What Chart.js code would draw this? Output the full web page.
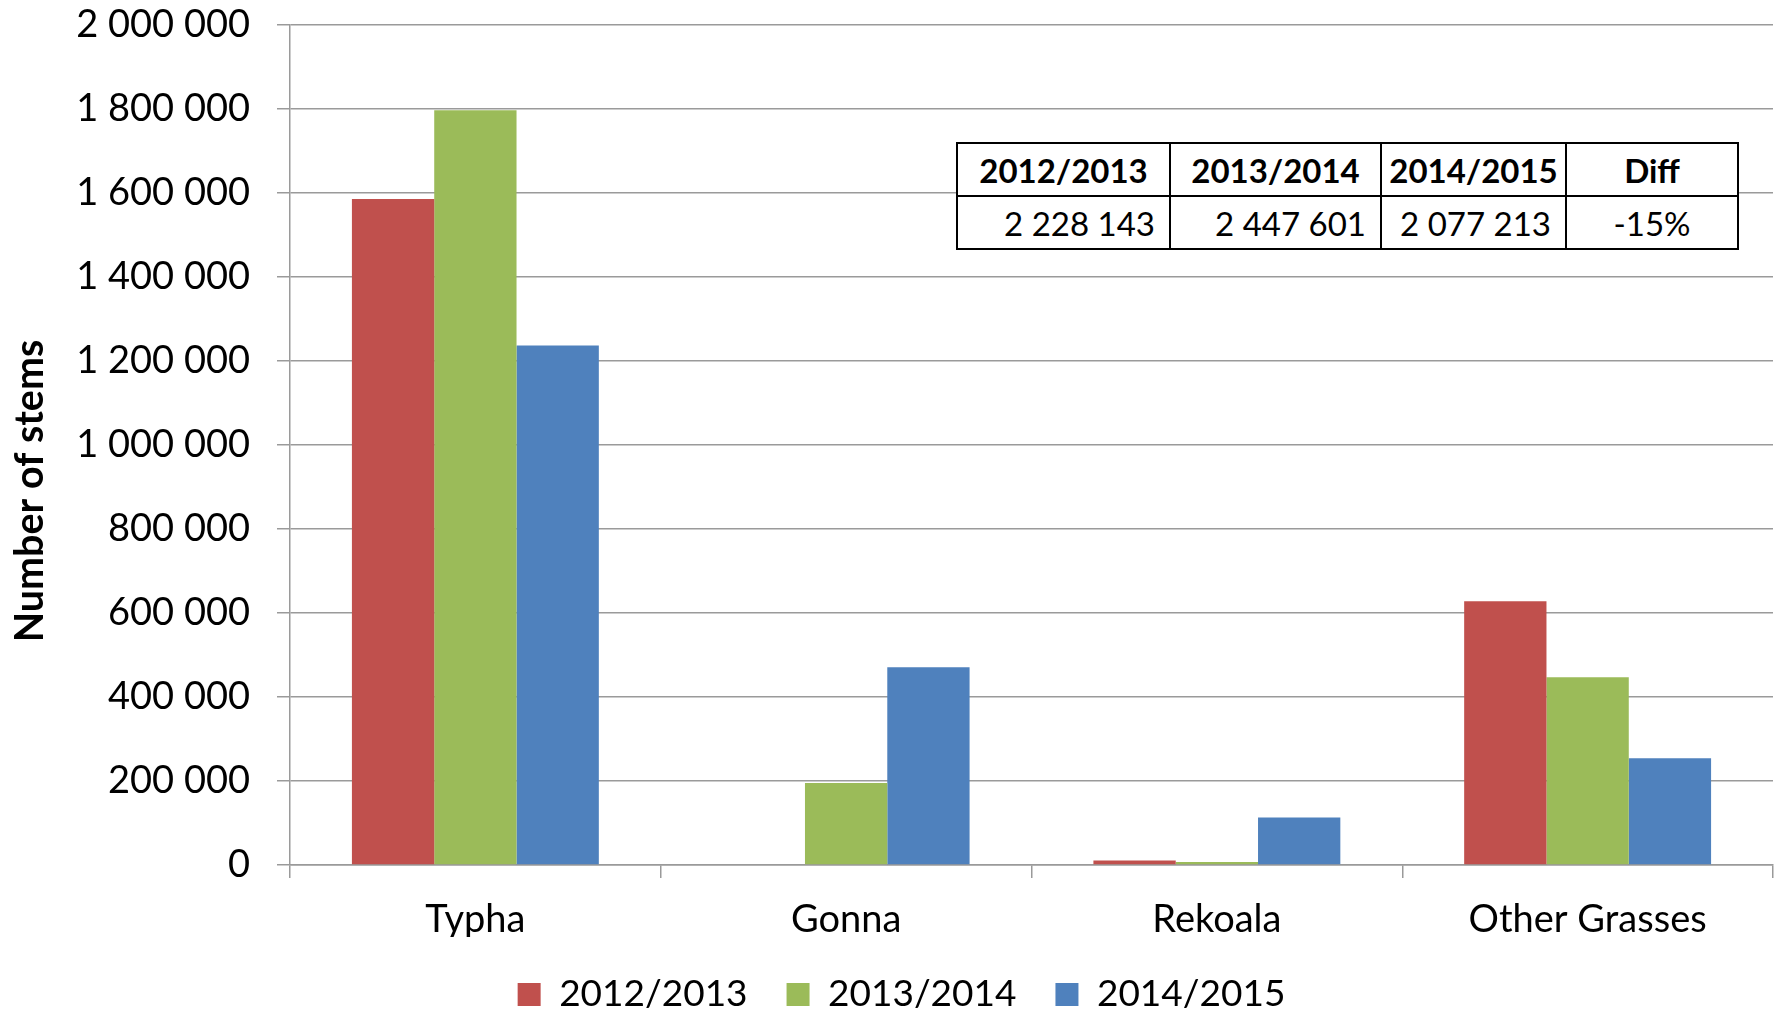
<!DOCTYPE html>
<html>
<head>
<meta charset="utf-8">
<script src="https://cdn.jsdelivr.net/npm/chart.js@4.4.1/dist/chart.umd.min.js"></script>
<style>
  html, body { margin: 0; padding: 0; background: #fff; }
  #wrap { position: relative; width: 1781px; height: 1014px; }
  #totals {
    position: absolute; left: 956px; top: 142px; width: 781px; table-layout: fixed;
    border-collapse: collapse; font-family: Lato, sans-serif; font-size: 33px; color: #000;
    background: #fff;
  }
  #totals td, #totals th { border: 2px solid #000; padding: 0 14px 0 6px; height: 51px; white-space: nowrap; }
  #totals th { font-weight: bold; text-align: center; padding: 0 4px; }
  #totals td { text-align: right; }
  #totals td:last-child { text-align: center; padding: 0 4px; }
</style>
</head>
<body>
<div id="wrap">
  <canvas id="stemsChart" width="1781" height="1014"></canvas>
  <table id="totals"><colgroup id="cols"></colgroup><tr id="headRow"></tr><tr id="valRow"></tr></table>
</div>
<script>
// === DATA ===
const categories = ['Typha', 'Gonna', 'Rekoala', 'Other Grasses'];
const seasons = ['2012/2013', '2013/2014', '2014/2015'];
const stems1213 = [1586000, 0, 11000, 628000];
const stems1314 = [1797000, 195000, 7000, 447000];
const stems1415 = [1237000, 471000, 113000, 254000];
const totalHeads = ['2012/2013', '2013/2014', '2014/2015', 'Diff'];
const totalValues = ['2 228 143', '2 447 601', '2 077 213', '-15%'];
const colors = ['#C0504D', '#9BBB59', '#4F81BD'];

// === TOTALS TABLE ===
const colWidths = [213, 211, 185, 172];
document.getElementById('cols').innerHTML = colWidths.map(w => `<col style="width:${w}px">`).join('');
document.getElementById('headRow').innerHTML = totalHeads.map(h => `<th>${h}</th>`).join('');
document.getElementById('valRow').innerHTML = totalValues.map(v => `<td>${v}</td>`).join('');

const spaced = v => String(v).replace(/\B(?=(\d{3})+(?!\d))/g, ' ');
const FONT = 'Lato, sans-serif';

// y title drawn by hand: it sits below the axis middle in the original
const yTitle = {
  id: 'yTitle',
  afterDraw(chart) {
    const { ctx, chartArea } = chart;
    ctx.save();
    ctx.translate(43, (chartArea.top + chartArea.bottom) / 2 + 46);
    ctx.rotate(-Math.PI / 2);
    ctx.font = `bold 39.5px ${FONT}`;
    ctx.fillStyle = '#000';
    ctx.textAlign = 'center';
    ctx.textBaseline = 'alphabetic';
    ctx.fillText('Number of stems', 0, 0);
    ctx.restore();
  }
};

new Chart(document.getElementById('stemsChart'), {
  type: 'bar',
  data: {
    labels: categories,
    datasets: [stems1213, stems1314, stems1415].map((d, i) => ({
      label: seasons[i],
      data: d,
      backgroundColor: colors[i],
      borderWidth: 0,
      categoryPercentage: 0.666,
      barPercentage: 1
    }))
  },
  plugins: [yTitle],
  options: {
    responsive: false,
    devicePixelRatio: 1,
    animation: false,
    layout: { padding: { top: 0, right: 8, left: 30, bottom: -9 } },
    plugins: {
      tooltip: { enabled: false },
      legend: {
        position: 'bottom',
        labels: {
          color: '#000', font: { family: FONT, size: 37 },
          boxWidth: 23, boxHeight: 23, padding: 39
        }
      }
    },
    scales: {
      y: {
        min: 0, max: 2000000,
        ticks: { stepSize: 200000, color: '#000', font: { family: FONT, size: 38 }, padding: 27, callback: v => spaced(v) },
        grid: { color: '#9a9a9a', lineWidth: 1.5, tickLength: 13 },
        border: { color: '#9a9a9a', width: 1.5 },
        afterFit: s => { s.width = 260; s.paddingTop = 25; }
      },
      x: {
        ticks: { color: '#000', font: { family: FONT, size: 38 }, padding: 19 },
        grid: { drawOnChartArea: false, color: '#9a9a9a', lineWidth: 1.5, tickLength: 13, offset: true },
        border: { color: '#9a9a9a', width: 1.5 },
        afterFit: s => { s.height = 72; }
      }
    }
  }
});
</script>
</body>
</html>
